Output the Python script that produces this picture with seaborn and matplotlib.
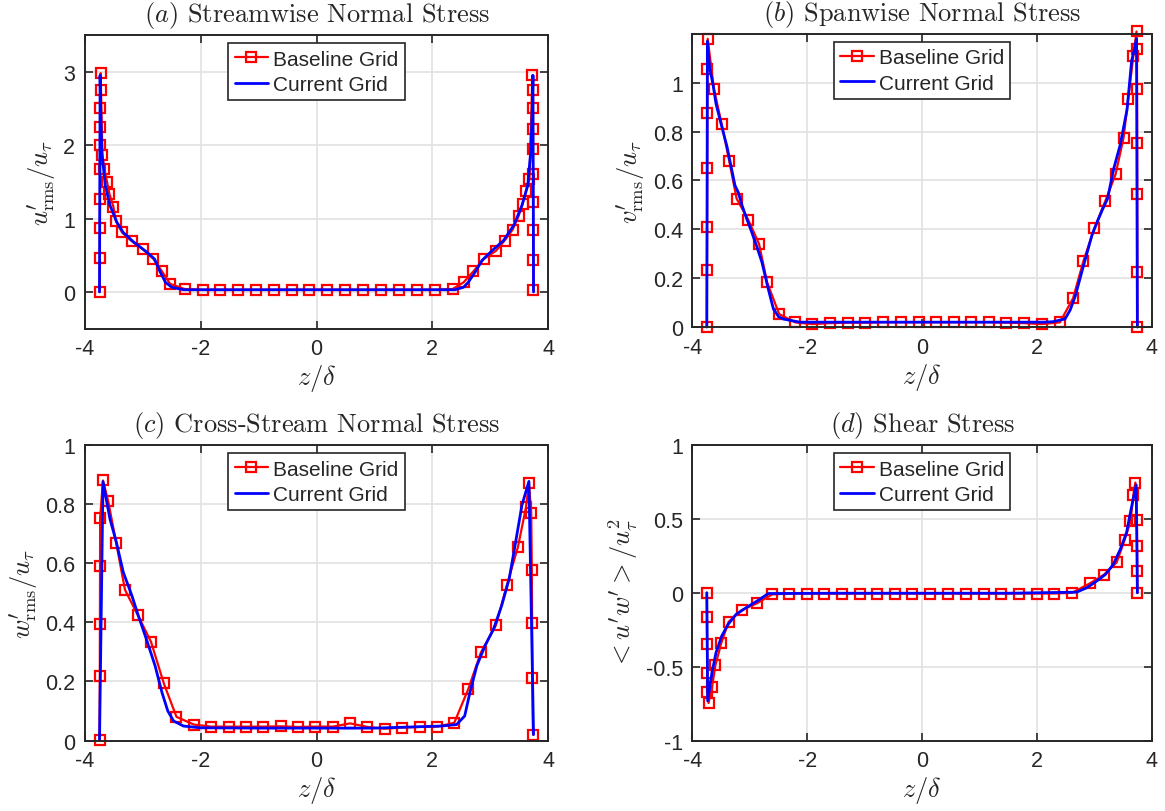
import matplotlib
matplotlib.use("Agg")
import matplotlib.pyplot as plt
from matplotlib.ticker import FuncFormatter
import seaborn as sns

sns.set_style("ticks")
plt.rcParams["font.family"] = ["Liberation Sans", "DejaVu Sans"]
plt.rcParams["mathtext.fontset"] = "cm"
plt.rcParams["axes.unicode_minus"] = False

# ---------------- (a) streamwise normal stress ----------------
za_base = [-3.748, -3.746, -3.744, -3.742, -3.740, -3.738, -3.736, -3.734, -3.732, -3.730,
           -3.70, -3.67, -3.62, -3.58, -3.51, -3.47, -3.36, -3.19, -3.00, -2.82, -2.67, -2.53,
           -2.28, -1.97, -1.66, -1.36, -1.05, -0.74, -0.43, -0.13, 0.18, 0.49, 0.80, 1.11,
           1.42, 1.73, 2.04, 2.35,
           2.54, 2.71, 2.89, 3.10, 3.25, 3.39, 3.49, 3.56, 3.62, 3.68,
           3.730, 3.732, 3.734, 3.736, 3.738, 3.740, 3.742, 3.744, 3.746, 3.748]
ua_base = [0.00, 0.46, 0.87, 1.27, 1.67, 2.00, 2.25, 2.50, 2.75, 2.98,
           1.86, 1.68, 1.50, 1.34, 1.16, 0.97, 0.81, 0.69, 0.58, 0.45, 0.28, 0.11,
           0.04, 0.03, 0.03, 0.03, 0.03, 0.03, 0.03, 0.03, 0.03, 0.03, 0.03, 0.03,
           0.03, 0.03, 0.03, 0.04,
           0.13, 0.28, 0.45, 0.56, 0.70, 0.85, 1.03, 1.20, 1.38, 1.54,
           2.95, 2.75, 2.50, 2.22, 1.95, 1.61, 1.23, 0.84, 0.44, 0.02]
za_cur = [-3.75, -3.74, -3.725, -3.71, -3.65, -3.57, -3.45, -3.34, -3.16, -2.96, -2.80,
          -2.70, -2.61, -2.50, -2.30, -1.50, -0.50, 0.50, 1.50, 2.30, 2.39, 2.54, 2.62,
          2.74, 2.86, 3.03, 3.23, 3.41, 3.55, 3.65, 3.70, 3.725, 3.74, 3.75]
ua_cur = [0.00, 2.95, 2.30, 1.90, 1.45, 1.18, 0.95, 0.81, 0.68, 0.56, 0.45,
          0.27, 0.13, 0.064, 0.03, 0.03, 0.03, 0.03, 0.03, 0.03, 0.03, 0.064, 0.13,
          0.27, 0.43, 0.56, 0.70, 0.91, 1.18, 1.45, 1.90, 2.40, 2.95, 0.00]

# ---------------- (b) spanwise normal stress ----------------
zb_base = [-3.750, -3.748, -3.746, -3.744, -3.742, -3.740, -3.735,
           -3.625, -3.49, -3.36, -3.23, -3.03, -2.84, -2.70, -2.49,
           -2.21, -1.91, -1.60, -1.29, -0.99, -0.68, -0.37, -0.06, 0.24, 0.55, 0.86,
           1.16, 1.47, 1.77, 2.08, 2.40,
           2.63, 2.81, 3.00, 3.19, 3.37, 3.51, 3.59, 3.68,
           3.735, 3.742, 3.745, 3.747, 3.748, 3.749, 3.750]
vb_base = [0.00, 0.235, 0.41, 0.65, 0.877, 1.057, 1.18,
           0.973, 0.83, 0.68, 0.525, 0.44, 0.34, 0.183, 0.053,
           0.019, 0.012, 0.016, 0.018, 0.018, 0.020, 0.020, 0.020, 0.020, 0.020, 0.020,
           0.020, 0.018, 0.016, 0.012, 0.019,
           0.118, 0.27, 0.404, 0.515, 0.625, 0.775, 0.934, 1.11,
           1.21, 1.14, 0.973, 0.754, 0.545, 0.225, 0.00]
zb_cur = [-3.75, -3.74, -3.70, -3.64, -3.59, -3.50, -3.40, -3.33, -3.26, -3.20, -3.14,
          -3.05, -2.97, -2.88, -2.79, -2.68, -2.59, -2.50, -2.42, -2.13, -1.00, 0.00,
          1.00, 2.13, 2.28, 2.49, 2.58, 2.67, 2.81, 2.96, 3.05, 3.14, 3.23, 3.34, 3.45,
          3.57, 3.65, 3.70, 3.735, 3.75]
vb_cur = [0.00, 1.17, 1.06, 0.99, 0.914, 0.83, 0.74, 0.66, 0.58, 0.55, 0.50,
          0.44, 0.39, 0.33, 0.265, 0.156, 0.074, 0.042, 0.033, 0.020, 0.020, 0.020,
          0.020, 0.020, 0.022, 0.033, 0.070, 0.128, 0.25, 0.377, 0.43, 0.48, 0.525, 0.65, 0.745,
          0.89, 1.09, 1.14, 1.18, 0.00]

# ---------------- (c) cross-stream normal stress ----------------
zc_base = [-3.750, -3.745, -3.743, -3.741, -3.739, -3.69, -3.60, -3.46, -3.31, -3.09, -2.86,
           -2.64, -2.42,
           -2.12, -1.82, -1.52, -1.22, -0.92, -0.62, -0.32, -0.02, 0.28, 0.58, 0.88, 1.18,
           1.48, 1.78, 2.09,
           2.38, 2.62, 2.84, 3.10, 3.29, 3.48, 3.62, 3.67, 3.71, 3.72, 3.725, 3.73, 3.74]
wc_base = [0.003, 0.22, 0.395, 0.59, 0.754, 0.88, 0.81, 0.667, 0.51, 0.425, 0.334,
           0.194, 0.08,
           0.054, 0.047, 0.047, 0.047, 0.047, 0.048, 0.046, 0.047, 0.047, 0.058, 0.046, 0.040,
           0.044, 0.046, 0.047,
           0.06, 0.173, 0.298, 0.39, 0.527, 0.655, 0.79, 0.871, 0.769, 0.576, 0.398, 0.213, 0.02]
zc_cur = [-3.75, -3.69, -3.57, -3.46, -3.34, -3.19, -3.08, -2.94, -2.79, -2.67, -2.57,
          -2.47, -2.30, -2.01, -1.00, 0.00, 1.00, 2.16, 2.42, 2.56, 2.65, 2.77, 2.91,
          3.06, 3.20, 3.33, 3.43, 3.55, 3.67, 3.75]
wc_cur = [0.00, 0.876, 0.75, 0.672, 0.57, 0.49, 0.423, 0.343, 0.253, 0.162, 0.10,
          0.066, 0.049, 0.043, 0.042, 0.042, 0.042, 0.049, 0.054, 0.083, 0.162, 0.253, 0.32,
          0.378, 0.457, 0.548, 0.66, 0.797, 0.877, 0.02]

# ---------------- (d) shear stress ----------------
zd_base = [-3.750, -3.748, -3.746, -3.744, -3.742, -3.72, -3.66, -3.60, -3.50, -3.37, -3.14,
           -2.88,
           -2.61, -2.31, -2.01, -1.71, -1.40, -1.09, -0.78, -0.48, -0.17, 0.14, 0.45, 0.76,
           1.07, 1.38, 1.69, 2.00, 2.30, 2.61,
           2.92, 3.17, 3.39, 3.53, 3.63, 3.68, 3.715, 3.742, 3.745, 3.748, 3.750]
uwd_base = [0.00, -0.162, -0.349, -0.54, -0.674, -0.746, -0.64, -0.49, -0.342, -0.196, -0.117,
            -0.072,
            -0.011, -0.005, -0.005, -0.005, -0.005, -0.005, -0.005, -0.005, -0.005, -0.005,
            -0.005, -0.005, -0.005, -0.005, -0.005, -0.005, -0.005, 0.000,
            0.063, 0.123, 0.206, 0.36, 0.483, 0.663, 0.746, 0.494, 0.319, 0.15, 0.00]
zd_cur = [-3.75, -3.735, -3.66, -3.59, -3.49, -3.38, -3.24, -3.05, -2.85, -2.68, -1.50,
          0.00, 1.50, 2.69, 2.87, 3.04, 3.19, 3.33, 3.45, 3.56, 3.65, 3.73, 3.75]
uwd_cur = [0.00, -0.731, -0.54, -0.405, -0.292, -0.214, -0.146, -0.097, -0.05, -0.005, -0.003,
           -0.003, -0.003, 0.004, 0.034, 0.079, 0.123, 0.191, 0.292, 0.405, 0.584, 0.73, 0.00]

x_ticks = [-4, -2, 0, 2, 4]

panels = [
    dict(letter="a", name="Streamwise Normal Stress",
         ylabel=r"$u^{\prime}_{\mathrm{rms}}/u_\tau$",
         zb=za_base, yb=ua_base, zc=za_cur, yc=ua_cur,
         ylim=(-0.5, 3.5), yticks=[0, 1, 2, 3],
         pos=[0.0730, 0.5940, 0.3974, 0.3617]),
    dict(letter="b", name="Spanwise Normal Stress",
         ylabel=r"$v^{\prime}_{\mathrm{rms}}/u_\tau$",
         zb=zb_base, yb=vb_base, zc=zb_cur, yc=vb_cur,
         ylim=(0, 1.2), yticks=[0, 0.2, 0.4, 0.6, 0.8, 1],
         pos=[0.5944, 0.5960, 0.3942, 0.3610]),
    dict(letter="c", name="Cross-Stream Normal Stress",
         ylabel=r"$w^{\prime}_{\mathrm{rms}}/u_\tau$",
         zb=zc_base, yb=wc_base, zc=zc_cur, yc=wc_cur,
         ylim=(0, 1), yticks=[0, 0.2, 0.4, 0.6, 0.8, 1],
         pos=[0.0730, 0.0868, 0.3974, 0.3639]),
    dict(letter="d", name="Shear Stress",
         ylabel=r"$<u^{\prime}w^{\prime}>/u_\tau^2$",
         zb=zd_base, yb=uwd_base, zc=zd_cur, yc=uwd_cur,
         ylim=(-1, 1), yticks=[-1, -0.5, 0, 0.5, 1],
         pos=[0.5944, 0.0868, 0.3942, 0.3639]),
]

fig = plt.figure(figsize=(11.65, 8.12), dpi=100)
fmt = FuncFormatter(lambda v, _: f"{v:g}")
dark = "#262626"

for p in panels:
    ax = fig.add_axes(p["pos"])
    ax.grid(True, color="#e2e2e2", lw=1.2)
    ax.set_axisbelow(True)

    sns.lineplot(x=p["zb"], y=p["yb"], ax=ax, sort=False, estimator=None,
                 color="#ff0000", lw=1.6, marker="s", markersize=7.5,
                 markerfacecolor="none", markeredgecolor="#ff0000",
                 markeredgewidth=1.6, clip_on=False, label="Baseline Grid")
    sns.lineplot(x=p["zc"], y=p["yc"], ax=ax, sort=False, estimator=None,
                 color="#0000ff", lw=2.0, clip_on=False, label="Current Grid")

    ax.set_xlim(-4, 4)
    ax.set_ylim(*p["ylim"])
    ax.set_xticks(x_ticks)
    ax.set_yticks(p["yticks"])
    ax.xaxis.set_major_formatter(fmt)
    ax.yaxis.set_major_formatter(fmt)

    for s in ax.spines.values():
        s.set_color(dark)
        s.set_linewidth(1.4)
        s.set_visible(True)
    ax.tick_params(direction="in", length=6, width=1.2, top=True, right=True,
                   labelsize=15.5, colors=dark, pad=7)

    ax.set_xlabel(r"$z/\delta$", fontsize=19, color=dark, labelpad=2)
    ax.set_ylabel(p["ylabel"], fontsize=19, color=dark, labelpad=4)
    ax.set_title(f"$({p['letter']})$ {p['name']}", fontsize=19, pad=10,
                 family="cmr10", color=dark)

    leg = ax.legend(loc="upper center", bbox_to_anchor=(0.5, 1.0), borderaxespad=0.4,
                    frameon=True, fancybox=False, fontsize=15, handlelength=1.6,
                    handletextpad=0.25, labelspacing=0.3, borderpad=0.3)
    leg.get_frame().set_edgecolor(dark)
    leg.get_frame().set_linewidth(1.2)
    leg.get_frame().set_alpha(1)

fig.savefig("out.png", dpi=100, facecolor="white")
